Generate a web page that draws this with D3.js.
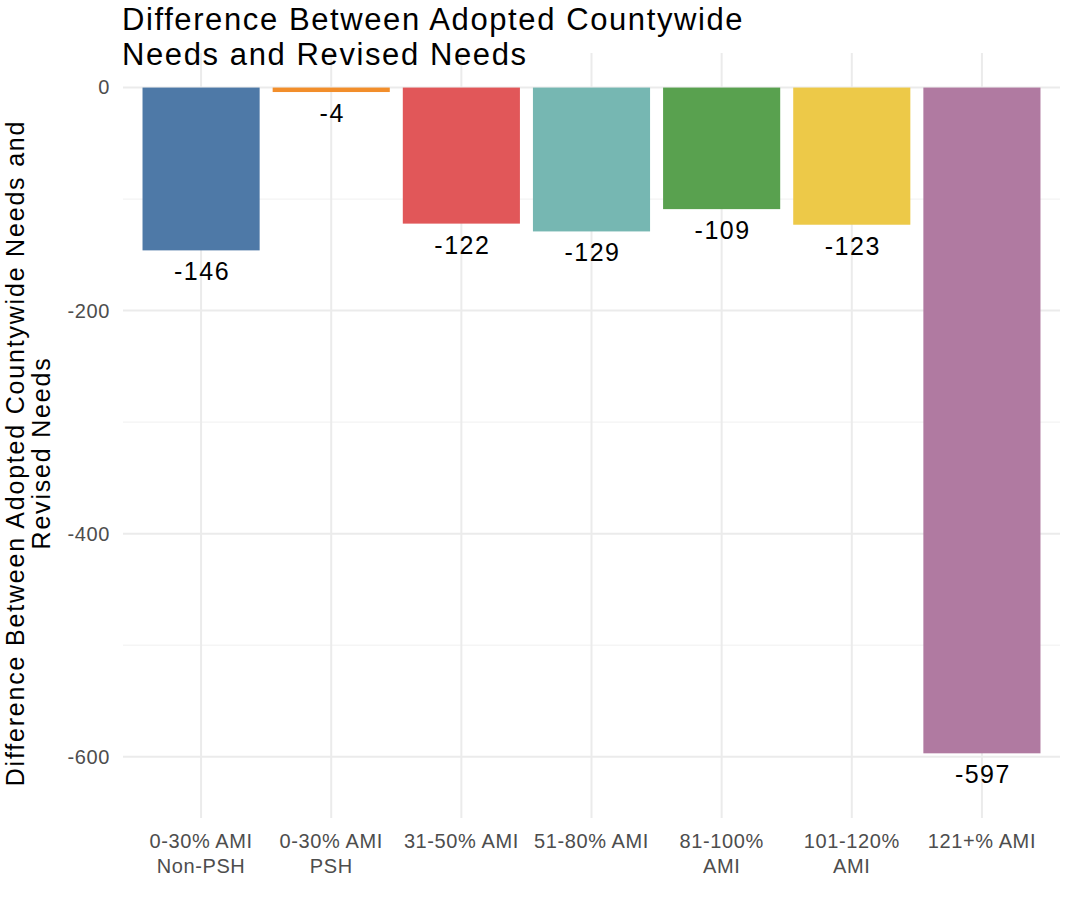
<!DOCTYPE html>
<html>
<head>
<meta charset="utf-8">
<script src="https://cdn.jsdelivr.net/npm/d3@7"></script>
<style>
  body { margin: 0; background: #fff; }
  svg { display: block; font-family: "Liberation Sans", Arial, sans-serif; }
</style>
</head>
<body>
<svg width="1071" height="923"></svg>
<script>
// data
var categories = ["0-30% AMI Non-PSH", "0-30% AMI PSH", "31-50% AMI", "51-80% AMI",
                  "81-100% AMI", "101-120% AMI", "121+% AMI"];
var tickLines = [["0-30% AMI", "Non-PSH"], ["0-30% AMI", "PSH"], ["31-50% AMI"], ["51-80% AMI"],
                 ["81-100%", "AMI"], ["101-120%", "AMI"], ["121+% AMI"]];
var differences = [-146, -4, -122, -129, -109, -123, -597];
var barColors = ["#4e79a7", "#f28e2b", "#e15759", "#76b7b2", "#59a14f", "#edc948", "#b07aa1"];
var yTicks = [0, -200, -400, -600];
var yMinorTicks = [-100, -300, -500];

var svg = d3.select("svg");
var panel = {left: 123, right: 1060, top: 53, bottom: 818};

var x = d3.scaleBand()
  .domain(categories)
  .range([panel.left, panel.right])
  .paddingInner(0.1)
  .paddingOuter(0.15);

var y = d3.scaleLinear()
  .domain([31, -655])
  .range([panel.top, panel.bottom]);

// grid
var grid = svg.append("g");
grid.selectAll(".minor")
  .data(yMinorTicks)
  .enter().append("line")
  .attr("x1", panel.left).attr("x2", panel.right)
  .attr("y1", function(d) { return y(d); })
  .attr("y2", function(d) { return y(d); })
  .attr("stroke", "#f0f0f0").attr("stroke-width", 1);
grid.selectAll(".major")
  .data(yTicks)
  .enter().append("line")
  .attr("x1", panel.left).attr("x2", panel.right)
  .attr("y1", function(d) { return y(d); })
  .attr("y2", function(d) { return y(d); })
  .attr("stroke", "#ebebeb").attr("stroke-width", 2);
grid.selectAll(".vert")
  .data(categories)
  .enter().append("line")
  .attr("x1", function(d) { return x(d) + x.bandwidth() / 2; })
  .attr("x2", function(d) { return x(d) + x.bandwidth() / 2; })
  .attr("y1", panel.top).attr("y2", panel.bottom)
  .attr("stroke", "#ebebeb").attr("stroke-width", 2);

// bars
svg.append("g").selectAll("rect")
  .data(differences)
  .enter().append("rect")
  .attr("x", function(d, i) { return x(categories[i]); })
  .attr("y", y(0))
  .attr("width", x.bandwidth())
  .attr("height", function(d) { return y(d) - y(0); })
  .attr("fill", function(d, i) { return barColors[i]; });

// value labels
svg.append("g").selectAll("text")
  .data(differences)
  .enter().append("text")
  .attr("x", function(d, i) { return x(categories[i]) + x.bandwidth() / 2 + 1; })
  .attr("y", function(d) { return y(d) + 30; })
  .attr("text-anchor", "middle")
  .attr("font-size", 25)
  .attr("letter-spacing", 1.5)
  .attr("fill", "#000")
  .text(function(d) { return d; });

// y axis (plain hyphen minus like the original)
var yAxis = svg.append("g")
  .attr("transform", "translate(" + panel.left + ",0)")
  .call(d3.axisLeft(y).tickValues(yTicks).tickSize(0).tickPadding(13)
    .tickFormat(function(d) { return String(d); }));
yAxis.select(".domain").remove();
yAxis.selectAll("text")
  .attr("font-size", 20)
  .attr("letter-spacing", 0.6)
  .attr("fill", "#4d4d4d")
  .attr("font-family", "Liberation Sans, Arial, sans-serif");

// x axis
var xAxis = svg.append("g")
  .attr("transform", "translate(0," + panel.bottom + ")")
  .call(d3.axisBottom(x).tickSize(0).tickFormat(""));
xAxis.select(".domain").remove();
xAxis.selectAll(".tick").each(function(d, i) {
  var t = d3.select(this).append("text")
    .attr("text-anchor", "middle")
    .attr("font-size", 20)
    .attr("letter-spacing", 0.6)
    .attr("fill", "#4d4d4d")
    .attr("font-family", "Liberation Sans, Arial, sans-serif");
  tickLines[i].forEach(function(line, j) {
    t.append("tspan").attr("x", 0).attr("y", 30 + j * 25).text(line);
  });
});

// y axis title
var yTitle = svg.append("text")
  .attr("transform", "translate(0,453) rotate(-90)")
  .attr("text-anchor", "middle")
  .attr("font-size", 25)
  .attr("letter-spacing", 1.8)
  .attr("fill", "#000");
yTitle.append("tspan").attr("x", 0).attr("y", 24).text("Difference Between Adopted Countywide Needs and");
yTitle.append("tspan").attr("x", 0).attr("y", 50).text("Revised Needs");

// chart title
var title = svg.append("text")
  .attr("font-size", 31)
  .attr("letter-spacing", 1.6)
  .attr("fill", "#000");
title.append("tspan").attr("x", 122).attr("y", 30).text("Difference Between Adopted Countywide");
title.append("tspan").attr("x", 122).attr("y", 65).text("Needs and Revised Needs");
</script>
</body>
</html>
